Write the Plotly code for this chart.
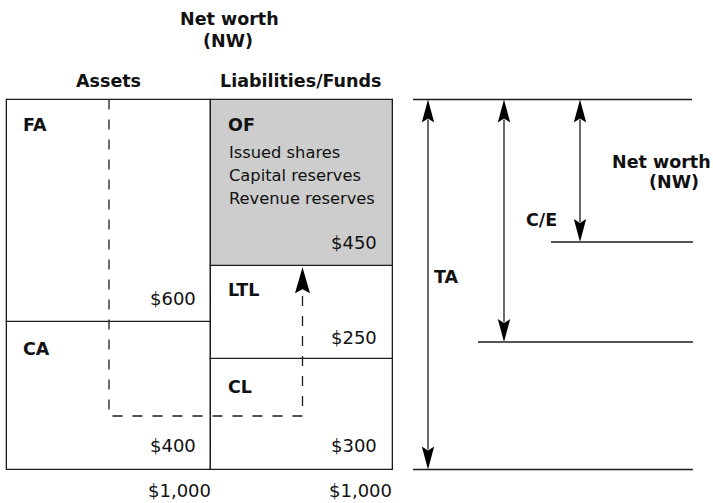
import numpy as np
import plotly.graph_objects as go

# ---------------- data ----------------
asset_labels = ["CA", "FA"]            # bottom -> top
asset_values = [400, 600]
liab_labels = ["CL", "LTL", "OF"]       # bottom -> top
liab_values = [300, 250, 450]
of_items = ["Issued shares", "Capital reserves", "Revenue reserves"]
totals = ["$1,000", "$1,000"]
side_labels = ["TA", "C/E", "Net worth", "(NW)"]

# ---------------- geometry helpers (layout only) ----------------
W, H = 713, 503
Y_TOP_PX, Y_BOT_PX = 99.5, 469.5
SCALE = (Y_BOT_PX - Y_TOP_PX) / 1000.0


def Y(px):
    """pixel row -> dollar value on the y axis"""
    return (Y_BOT_PX - px) / SCALE


LINE = "#1c1c1c"
LW = 1.3
FONT = "DejaVu Sans, Verdana, sans-serif"

x_left, x_mid, x_right = 7, 211, 392.5

fig = go.Figure()

# stacked boxes drawn as bars
a_base = np.concatenate([[0], np.cumsum(asset_values)[:-1]])
l_base = np.concatenate([[0], np.cumsum(liab_values)[:-1]])
fig.add_trace(go.Bar(
    x=[(x_left + x_mid) / 2] * len(asset_values),
    y=asset_values, base=a_base, width=[x_mid - x_left] * len(asset_values),
    marker=dict(color="white", line=dict(color=LINE, width=LW)),
    hoverinfo="skip", showlegend=False))
fig.add_trace(go.Bar(
    x=[(x_mid + x_right) / 2] * len(liab_values),
    y=liab_values, base=l_base, width=[x_right - x_mid] * len(liab_values),
    marker=dict(color=["white", "white", "#cdcdcd"], line=dict(color=LINE, width=LW)),
    hoverinfo="skip", showlegend=False))

# dashed path: from assets through to long-term liabilities
dash_y_low = Y(416)
dash_x1, dash_x2 = 109, 302.5
lt_top = liab_values[0] + liab_values[1]
arrow_tip = lt_top - 1.3 / SCALE
fig.add_trace(go.Scatter(
    x=[dash_x1, dash_x1, dash_x2, dash_x2],
    y=[1000, dash_y_low, dash_y_low, arrow_tip - 22 / SCALE],
    mode="lines", line=dict(color=LINE, width=LW, dash="10px,10px"),
    hoverinfo="skip", showlegend=False))

shapes = []


def head(x, tip, direction, L=23, hw=6.2, notch=4):
    # direction +1: arrow points up (tip at top), -1: points down
    d = direction
    base = tip - d * L / SCALE
    nb = tip - d * (L - notch) / SCALE
    return dict(type="path", xref="x", yref="y",
                path=f"M{x},{tip} L{x + hw},{base} L{x},{nb} L{x - hw},{base} Z",
                fillcolor="black", line=dict(width=0))


shapes.append(head(dash_x2, arrow_tip, +1, L=26, hw=7.5, notch=4))

# right-hand reference lines
levels = {"top": 1000, "nw": Y(242), "ce": Y(342), "bot": 0}
line_spans = [("top", 413, 692), ("nw", 551, 693), ("ce", 478, 693), ("bot", 413, 693)]
for key, xa, xb in line_spans:
    fig.add_trace(go.Scatter(x=[xa, xb], y=[levels[key]] * 2, mode="lines",
                             line=dict(color=LINE, width=LW), hoverinfo="skip",
                             showlegend=False))

# double arrows
arrows = [(428, "bot"), (504, "ce"), (580, "nw")]
for ax, key in arrows:
    top_tip, bot_tip = 1000, levels[key]
    fig.add_trace(go.Scatter(x=[ax, ax], y=[top_tip - 20 / SCALE, bot_tip + 20 / SCALE],
                             mode="lines", line=dict(color=LINE, width=LW),
                             hoverinfo="skip", showlegend=False))
    shapes.append(head(ax, top_tip, +1))
    shapes.append(head(ax, bot_tip, -1))

# ---------------- text ----------------
ann = []
BOLD = 17.5
REG = 18
ITEM = 16.3


def txt(x, ypx, s, bold=False, size=None, anchor="center"):
    if size is None:
        size = BOLD if bold else REG
    ann.append(dict(x=x, y=Y(ypx), xref="x", yref="y", text=f"<b>{s}</b>" if bold else s,
                    showarrow=False, xanchor=anchor, yanchor="middle",
                    font=dict(family=FONT, size=size, color="#111")))


txt(229, 19, "Net worth", bold=True)
txt(227.5, 41, "(NW)", bold=True)
txt(108.5, 81, "Assets", bold=True)
txt(300.5, 81, "Liabilities/Funds", bold=True)

# assets box labels
txt(21, 125, asset_labels[1], bold=True, anchor="left")
txt(21, 349, asset_labels[0], bold=True, anchor="left")
txt(198, 298, f"${asset_values[1]}", anchor="right")
txt(198, 445, f"${asset_values[0]}", anchor="right")

# liabilities box labels
txt(226, 125, liab_labels[2], bold=True, anchor="left")
for i, item in enumerate(of_items):
    txt(227, 152 + i * 23, item, anchor="left", size=ITEM)
txt(379, 242, f"${liab_values[2]}", anchor="right")
txt(226, 290, liab_labels[1], bold=True, anchor="left")
txt(379, 337, f"${liab_values[1]}", anchor="right")
txt(226, 387, liab_labels[0], bold=True, anchor="left")
txt(379, 445, f"${liab_values[0]}", anchor="right")

txt(213, 490, totals[0], anchor="right")
txt(394, 490, totals[1], anchor="right")

# side labels
txt(446, 277, side_labels[0], bold=True)
txt(541, 220, side_labels[1], bold=True)
txt(661.5, 162, side_labels[2], bold=True)
txt(674, 182, side_labels[3], bold=True)

fig.update_layout(
    width=W, height=H, margin=dict(l=0, r=0, t=0, b=0),
    paper_bgcolor="white", plot_bgcolor="white",
    barmode="overlay", bargap=0,
    xaxis=dict(range=[0, W], visible=False, fixedrange=True),
    yaxis=dict(range=[Y(H), Y(0)], visible=False, fixedrange=True),
    shapes=shapes, annotations=ann,
)

fig.write_html("out.html", config={"displayModeBar": False},
               post_script="document.body.style.margin='0px';document.body.style.padding='0px';")
